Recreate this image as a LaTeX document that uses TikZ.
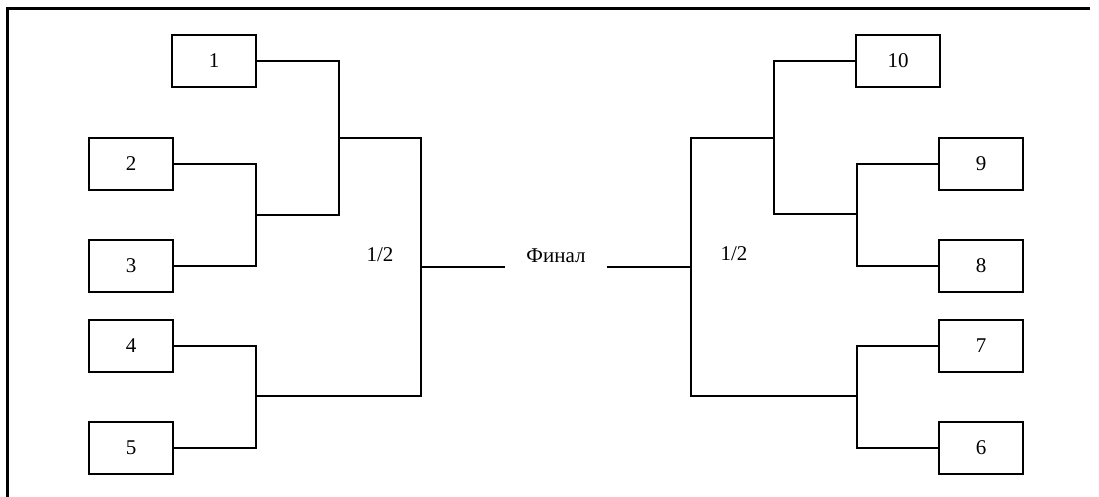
\documentclass[tikz,border=0pt]{standalone}
\usepackage{fontspec}
\setmainfont{Liberation Serif}
\begin{document}
\begin{tikzpicture}[x=1pt,y=-1pt,
  team/.style={draw,line width=2pt,minimum width=84pt,minimum height=52pt,inner sep=0pt,font=\fontsize{21}{24}\selectfont},
  conn/.style={line width=2pt},
  lbl/.style={inner sep=0pt,font=\fontsize{21}{24}\selectfont}]
\useasboundingbox (0,0) rectangle (1099,497);
\draw[line width=3pt] (7.5,497) -- (7.5,8.5) -- (1090,8.5);
% left side
\node[team] (b1) at (214,61) {1};
\node[team] (b2) at (131,164) {2};
\node[team] (b3) at (131,266) {3};
\node[team] (b4) at (131,346) {4};
\node[team] (b5) at (131,448) {5};
% right side
\node[team] (b10) at (898,61) {10};
\node[team] (b9) at (981,164) {9};
\node[team] (b8) at (981,266) {8};
\node[team] (b7) at (981,346) {7};
\node[team] (b6) at (981,448) {6};
% junctions
\coordinate (L1) at (256,215);
\coordinate (L2) at (339,138);
\coordinate (L3) at (256,396);
\coordinate (L4) at (421,267);
\coordinate (R1) at (857,214);
\coordinate (R2) at (774,138);
\coordinate (R3) at (857,396);
\coordinate (R4) at (691,267);
% labels
\node[lbl] (half1) at (380,255) {1/2};
\node[lbl] (half2) at (734,254) {1/2};
\node[lbl,inner xsep=21pt] (fin) at (556,256) {Финал};
% connectors left
\draw[conn] (b2.east) -| (L1) |- (b3.east);
\draw[conn] (b4.east) -| (L3) |- (b5.east);
\draw[conn] (b1.east) -| (L2) |- (L1);
\draw[conn] (L2) -| (L4) |- (L3);
\draw[conn] (L4) -- (L4 -| fin.west);
% connectors right
\draw[conn] (b9.west) -| (R1) |- (b8.west);
\draw[conn] (b7.west) -| (R3) |- (b6.west);
\draw[conn] (b10.west) -| (R2) |- (R1);
\draw[conn] (R2) -| (R4) |- (R3);
\draw[conn] (R4) -- (R4 -| fin.east);
\end{tikzpicture}
\end{document}
